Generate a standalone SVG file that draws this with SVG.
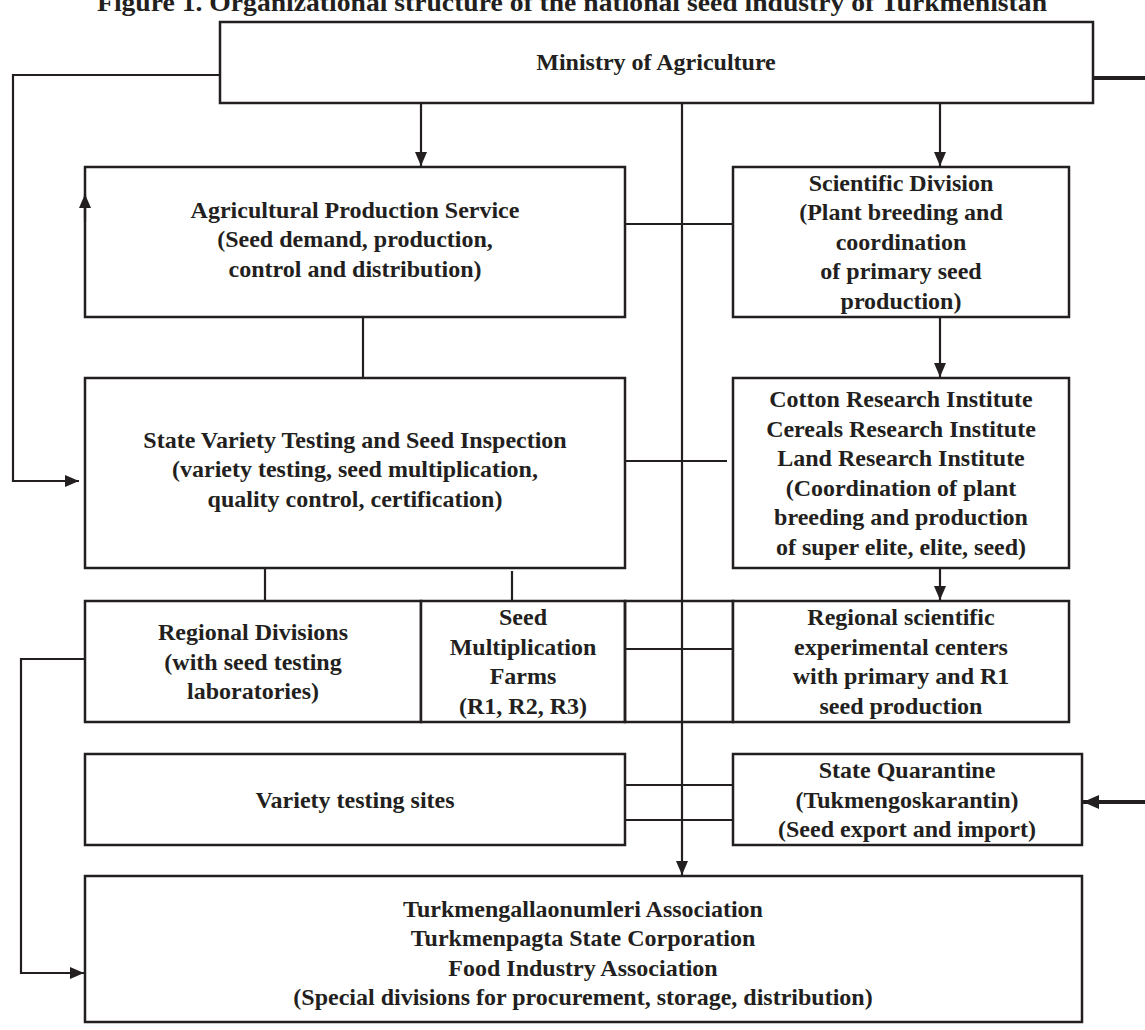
<svg xmlns="http://www.w3.org/2000/svg" width="1145" height="1030" viewBox="0 0 1145 1030">
<style>
.box{fill:#ffffff;stroke:#231f20;stroke-width:2.5}
.cell{fill:none;stroke:#231f20;stroke-width:2.5}
.ln{fill:none;stroke:#231f20;stroke-width:2.2}
.thick{fill:none;stroke:#231f20;stroke-width:4}
text{font-family:"Liberation Serif","Times New Roman",serif;font-weight:bold;font-size:24px;fill:#231f20;text-anchor:middle}
.title{font-size:26px}
</style>
<defs>
<marker id="ah" viewBox="0 0 14 12" refX="14" refY="6" markerWidth="14" markerHeight="12" markerUnits="userSpaceOnUse" orient="auto">
<path d="M0,0 L14,6 L0,12 z" fill="#231f20"/>
</marker>
<marker id="ahb" viewBox="0 0 16 14" refX="16" refY="7" markerWidth="16" markerHeight="14" markerUnits="userSpaceOnUse" orient="auto">
<path d="M0,0 L16,7 L0,14 z" fill="#231f20"/>
</marker>
</defs>
<rect width="1145" height="1030" fill="#ffffff"/>
<text class="title" x="572" y="11" textLength="950" lengthAdjust="spacingAndGlyphs">Figure 1. Organizational structure of the national seed industry of Turkmenistan</text>

<g id="ministry">
<rect class="box" x="220" y="22" width="873" height="81"/>
<text x="656" y="70">Ministry of Agriculture</text>
</g>

<g id="agri">
<rect class="box" x="85" y="167" width="540" height="150"/>
<text x="355" y="218">Agricultural Production Service</text>
<text x="355" y="247">(Seed demand, production,</text>
<text x="355" y="277">control and distribution)</text>
</g>

<g id="sci">
<rect class="box" x="733" y="167" width="336" height="150"/>
<text x="901" y="191">Scientific Division</text>
<text x="901" y="220">(Plant breeding and</text>
<text x="901" y="250">coordination</text>
<text x="901" y="279">of primary seed</text>
<text x="901" y="309">production)</text>
</g>

<g id="state">
<rect class="box" x="85" y="378" width="540" height="190"/>
<text x="355" y="448">State Variety Testing and Seed Inspection</text>
<text x="355" y="477">(variety testing, seed multiplication,</text>
<text x="355" y="507">quality control, certification)</text>
</g>

<g id="cotton">
<rect class="box" x="733" y="378" width="336" height="190"/>
<text x="901" y="407">Cotton Research Institute</text>
<text x="901" y="437">Cereals Research Institute</text>
<text x="901" y="466">Land Research Institute</text>
<text x="901" y="496">(Coordination of plant</text>
<text x="901" y="525">breeding and production</text>
<text x="901" y="555">of super elite, elite, seed)</text>
</g>

<g id="regdiv">
<rect class="box" x="85" y="601" width="336" height="121"/>
<text x="253" y="640">Regional Divisions</text>
<text x="253" y="670">(with seed testing</text>
<text x="253" y="699">laboratories)</text>
</g>

<g id="seedmult">
<rect class="box" x="421" y="601" width="204" height="121"/>
<text x="523" y="625">Seed</text>
<text x="523" y="655">Multiplication</text>
<text x="523" y="684">Farms</text>
<text x="523" y="714">(R1, R2, R3)</text>
</g>

<g id="midcell">
<rect class="cell" x="625" y="601" width="108" height="121"/>
</g>

<g id="regsci">
<rect class="box" x="733" y="601" width="336" height="121"/>
<text x="901" y="625">Regional scientific</text>
<text x="901" y="655">experimental centers</text>
<text x="901" y="684">with primary and R1</text>
<text x="901" y="714">seed production</text>
</g>

<g id="variety">
<rect class="box" x="85" y="754" width="540" height="91"/>
<text x="355" y="808">Variety testing sites</text>
</g>

<g id="quarantine">
<rect class="box" x="733" y="754" width="349" height="91"/>
<text x="907" y="778">State Quarantine</text>
<text x="907" y="808">(Tukmengoskarantin)</text>
<text x="907" y="837">(Seed export and import)</text>
</g>

<g id="bottom">
<rect class="box" x="85" y="876" width="997" height="146"/>
<text x="583" y="917">Turkmengallaonumleri Association</text>
<text x="583" y="946">Turkmenpagta State Corporation</text>
<text x="583" y="976">Food Industry Association</text>
<text x="583" y="1005">(Special divisions for procurement, storage, distribution)</text>
</g>

<g id="connectors">
<path class="ln" d="M220,75 H13 V481 H79" marker-end="url(#ah)"/>
<path class="ln" d="M421,103 V166" marker-end="url(#ah)"/>
<path class="ln" d="M940,103 V166" marker-end="url(#ah)"/>
<path class="ln" d="M682,103 V875" marker-end="url(#ah)"/>
<path class="ln" d="M625,224 H733"/>
<path class="ln" d="M363,317 V378"/>
<path class="ln" d="M940,317 V377" marker-end="url(#ah)"/>
<path class="ln" d="M625,461 H727"/>
<path class="ln" d="M265,568 V601"/>
<path class="ln" d="M512,571 V601"/>
<path class="ln" d="M940,568 V600" marker-end="url(#ah)"/>
<path class="ln" d="M625,649 H733"/>
<path class="ln" d="M85,659 H21 V973 H84" marker-end="url(#ah)"/>
<path class="ln" d="M625,785 H733"/>
<path class="ln" d="M625,820 H733"/>
<path class="thick" d="M1093,78 H1145"/>
<path class="thick" d="M1145,802 H1083" marker-end="url(#ahb)"/>
<path class="ln" d="M85,222 V194" marker-end="url(#ah)"/>
</g>
</svg>
